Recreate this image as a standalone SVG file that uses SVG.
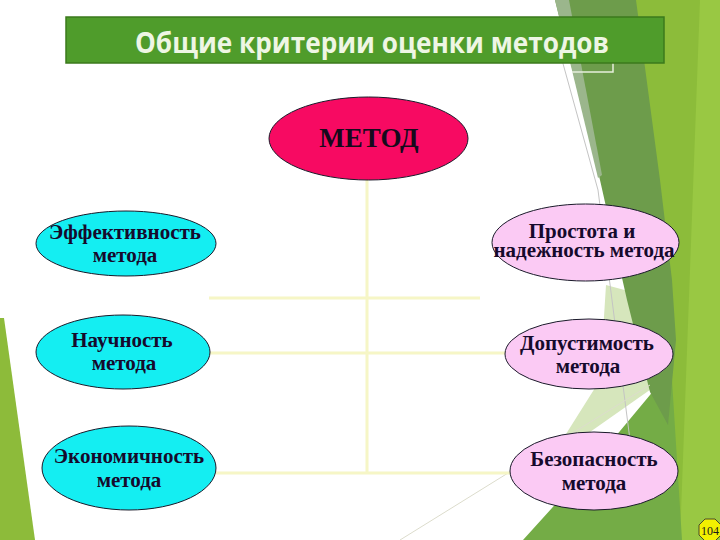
<svg xmlns="http://www.w3.org/2000/svg" width="720" height="540" viewBox="0 0 720 540">
  <style>
    .conn { stroke: #f6f6c6; stroke-width: 3; fill: none; }
    .cyan { fill: #14eef2; stroke: #1a1a2a; stroke-width: 1; }
    .pink { fill: #fbcaf4; stroke: #1a1a2a; stroke-width: 1; }
    .lbl { font-family: "Liberation Serif", "Times New Roman", serif; font-weight: bold; font-size: 21px; fill: #160a2c; text-anchor: middle; }
    .thin { stroke: #c4c4c4; stroke-width: 1; fill: none; }
  </style>
  <rect x="0" y="0" width="720" height="540" fill="#ffffff"/>

  <g id="background">
    <polygon points="0,318 4,318 35,540 0,540" fill="#8dbb3a"/>
    <polygon points="630,0 720,0 720,540 640,540 662,300" fill="#8cbc3a"/>
    <polygon points="700,0 720,0 720,540 680,540" fill="#99c843"/>
    <polygon points="606,285 632,292 664,380 590,432 566,434 600,380" fill="#d6e6bc"/>
    <polygon points="523,540 600,455 650,395 668,372 672,380 682,540" fill="#74ac46"/>
    <polygon points="555,0 636,0 660,180 672,280 676,340 668,425 650,392 627,300 600,180" fill="#6d9c4b"/>
    <polygon points="555,0 569,0 602,175 598,178" fill="#9bb68c"/>
    <polyline class="thin" points="562,60 598,190 612,300 630,440"/>
    <line x1="400" y1="540" x2="650" y2="385" stroke="#dcdccc" stroke-width="1"/>
    <path d="M572,72 H613 V62" fill="none" stroke="#e6eedc" stroke-width="1.5"/>
  </g>

  <g id="title">
    <rect x="66" y="17" width="598" height="46" fill="#4f9c2b" stroke="#3b7a1c" stroke-width="1.5"/>
    <text x="372" y="53" font-family="'Open Sans', 'Noto Sans', sans-serif" font-size="28" font-weight="bold" fill="#eef6e4" text-anchor="middle" textLength="474" lengthAdjust="spacingAndGlyphs">Общие критерии оценки методов</text>
  </g>

  <g id="connectors">
    <line class="conn" x1="367" y1="180" x2="367" y2="473"/>
    <line class="conn" x1="209" y1="298" x2="480" y2="298"/>
    <line class="conn" x1="210" y1="353" x2="505" y2="353"/>
    <line class="conn" x1="216" y1="473" x2="510" y2="473"/>
  </g>

  <g id="node-metod">
    <ellipse cx="368.5" cy="138.5" rx="99.5" ry="41.5" fill="#f70a62" stroke="#1a1a2a" stroke-width="1"/>
    <text x="369" y="147" font-family="'Liberation Serif', 'Times New Roman', serif" font-weight="bold" font-size="27" fill="#160a1c" text-anchor="middle">МЕТОД</text>
  </g>

  <g id="node-effektivnost">
    <ellipse class="cyan" cx="126" cy="243.5" rx="90" ry="32.5"/>
    <text class="lbl" x="125" y="239">Эффективность</text>
    <text class="lbl" x="125" y="262">метода</text>
  </g>

  <g id="node-nauchnost">
    <ellipse class="cyan" cx="123" cy="352" rx="87" ry="37"/>
    <text class="lbl" x="122" y="347">Научность</text>
    <text class="lbl" x="124" y="370">метода</text>
  </g>

  <g id="node-ekonomichnost">
    <ellipse class="cyan" cx="129" cy="468" rx="87" ry="42"/>
    <text class="lbl" x="129" y="463">Экономичность</text>
    <text class="lbl" x="129" y="487">метода</text>
  </g>

  <g id="node-prostota">
    <ellipse class="pink" cx="585.5" cy="242.5" rx="93.5" ry="38.5"/>
    <text class="lbl" x="582" y="238">Простота и</text>
    <text class="lbl" x="584" y="257">надежность метода</text>
  </g>

  <g id="node-dopustimost">
    <ellipse class="pink" cx="589" cy="354" rx="84" ry="35"/>
    <text class="lbl" x="587" y="350">Допустимость</text>
    <text class="lbl" x="588" y="373">метода</text>
  </g>

  <g id="node-bezopasnost">
    <ellipse class="pink" cx="594" cy="471" rx="84" ry="39"/>
    <text class="lbl" x="594" y="466">Безопасность</text>
    <text class="lbl" x="594" y="490">метода</text>
  </g>

  <g id="page-number">
    <polygon points="705,519 715,519 721,525 721,535 715,541 705,541 699,535 699,525" fill="#f2f000" stroke="#4a4a2a" stroke-width="1"/>
    <text x="710" y="535" font-family="'Liberation Serif', serif" font-size="12" fill="#1a1a1a" text-anchor="middle">104</text>
  </g>
</svg>
